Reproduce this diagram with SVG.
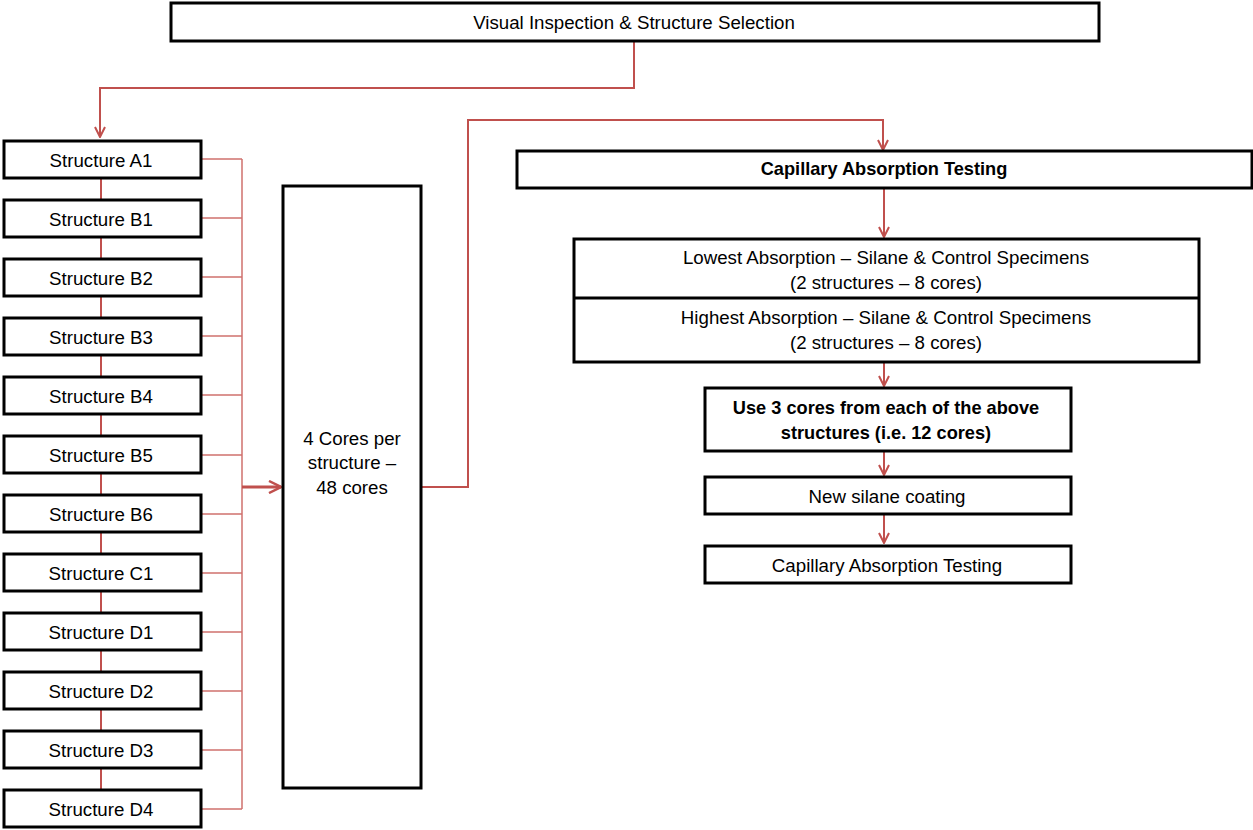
<svg xmlns="http://www.w3.org/2000/svg" width="1253" height="830" viewBox="0 0 1253 830">
<defs>
<style>
.box{fill:#fff;stroke:#000;stroke-width:3}
.t{font-family:"Liberation Sans",Arial,sans-serif;font-size:18.7px;fill:#000;text-anchor:middle;dominant-baseline:central}
.b{font-weight:bold;font-size:18.2px}
.c{fill:none;stroke:#c0504d;stroke-width:2}
.bus{fill:none;stroke:#d0716e;stroke-width:1.5}
</style>
<marker id="ah" viewBox="0 0 12 12" refX="11" refY="6" markerWidth="12" markerHeight="12" markerUnits="userSpaceOnUse" orient="auto">
<path d="M1,1 L11,6 L1,11" fill="none" stroke="#c0504d" stroke-width="2"/>
</marker>
<marker id="ah2" viewBox="0 0 14 14" refX="13" refY="7" markerWidth="14" markerHeight="14" markerUnits="userSpaceOnUse" orient="auto">
<path d="M1,1 L13,7 L1,13" fill="none" stroke="#c0504d" stroke-width="2.5"/>
</marker>
</defs>
<rect width="1253" height="830" fill="#fff"/>
<g id="connectors">
<path class="c" d="M634,41 V88 H100 V137" marker-end="url(#ah)"/>
<path class="c" d="M101,178 V200 M101,237 V259 M101,296 V318 M101,355 V377 M101,414 V436 M101,473 V495 M101,532 V554 M101,591 V613 M101,650 V672 M101,709 V731 M101,768 V790"/>
<path class="bus" d="M201,159 H242 M201,218 H242 M201,277 H242 M201,336 H242 M201,395 H242 M201,455 H242 M201,514 H242 M201,573 H242 M201,632 H242 M201,691 H242 M201,750 H242 M201,809 H242 M242,159 V809"/>
<path class="c" style="stroke-width:3" d="M242,487 H281" marker-end="url(#ah2)"/>
<path class="c" d="M421,487 H468 V120 H883 V150" marker-end="url(#ah)"/>
<path class="c" d="M884,188 V237" marker-end="url(#ah)"/>
<path class="c" d="M884,362 V386" marker-end="url(#ah)"/>
<path class="c" d="M884,451 V475" marker-end="url(#ah)"/>
<path class="c" d="M884,514 V543" marker-end="url(#ah)"/>
</g>
<g id="n-visual"><rect class="box" x="171" y="3" width="928" height="38"/><text class="t" x="634" y="22">Visual Inspection &amp; Structure Selection</text></g>
<g id="n-a1"><rect class="box" x="4" y="141" width="197" height="37"/><text class="t" x="101" y="160">Structure A1</text></g>
<g id="n-b1"><rect class="box" x="4" y="200" width="197" height="37"/><text class="t" x="101" y="219">Structure B1</text></g>
<g id="n-b2"><rect class="box" x="4" y="259" width="197" height="37"/><text class="t" x="101" y="278">Structure B2</text></g>
<g id="n-b3"><rect class="box" x="4" y="318" width="197" height="37"/><text class="t" x="101" y="337">Structure B3</text></g>
<g id="n-b4"><rect class="box" x="4" y="377" width="197" height="37"/><text class="t" x="101" y="396">Structure B4</text></g>
<g id="n-b5"><rect class="box" x="4" y="436" width="197" height="37"/><text class="t" x="101" y="455">Structure B5</text></g>
<g id="n-b6"><rect class="box" x="4" y="495" width="197" height="37"/><text class="t" x="101" y="514">Structure B6</text></g>
<g id="n-c1"><rect class="box" x="4" y="554" width="197" height="37"/><text class="t" x="101" y="573">Structure C1</text></g>
<g id="n-d1"><rect class="box" x="4" y="613" width="197" height="37"/><text class="t" x="101" y="632">Structure D1</text></g>
<g id="n-d2"><rect class="box" x="4" y="672" width="197" height="37"/><text class="t" x="101" y="691">Structure D2</text></g>
<g id="n-d3"><rect class="box" x="4" y="731" width="197" height="37"/><text class="t" x="101" y="750">Structure D3</text></g>
<g id="n-d4"><rect class="box" x="4" y="790" width="197" height="37"/><text class="t" x="101" y="809">Structure D4</text></g>
<g id="n-cores"><rect class="box" x="283" y="186" width="138" height="602"/><text class="t" x="352" y="438">4 Cores per</text><text class="t" x="352" y="462">structure –</text><text class="t" x="352" y="487">48 cores</text></g>
<g id="n-cap1"><rect class="box" x="517" y="151" width="735" height="37"/><text class="t b" x="884" y="169">Capillary Absorption Testing</text></g>
<g id="n-lowhigh"><rect class="box" x="574" y="239" width="625" height="123"/><line x1="574" y1="298" x2="1199" y2="298" stroke="#000" stroke-width="3"/><text class="t" x="886" y="257">Lowest Absorption – Silane &amp; Control Specimens</text><text class="t" x="886" y="282">(2 structures – 8 cores)</text><text class="t" x="886" y="317">Highest Absorption – Silane &amp; Control Specimens</text><text class="t" x="886" y="342">(2 structures – 8 cores)</text></g>
<g id="n-use3"><rect class="box" x="705" y="388" width="366" height="63"/><text class="t b" x="886" y="408">Use 3 cores from each of the above</text><text class="t b" x="886" y="433">structures (i.e. 12 cores)</text></g>
<g id="n-new"><rect class="box" x="705" y="477" width="366" height="37"/><text class="t" x="887" y="496">New silane coating</text></g>
<g id="n-cap2"><rect class="box" x="705" y="546" width="366" height="37"/><text class="t" x="887" y="565">Capillary Absorption Testing</text></g>
</svg>
